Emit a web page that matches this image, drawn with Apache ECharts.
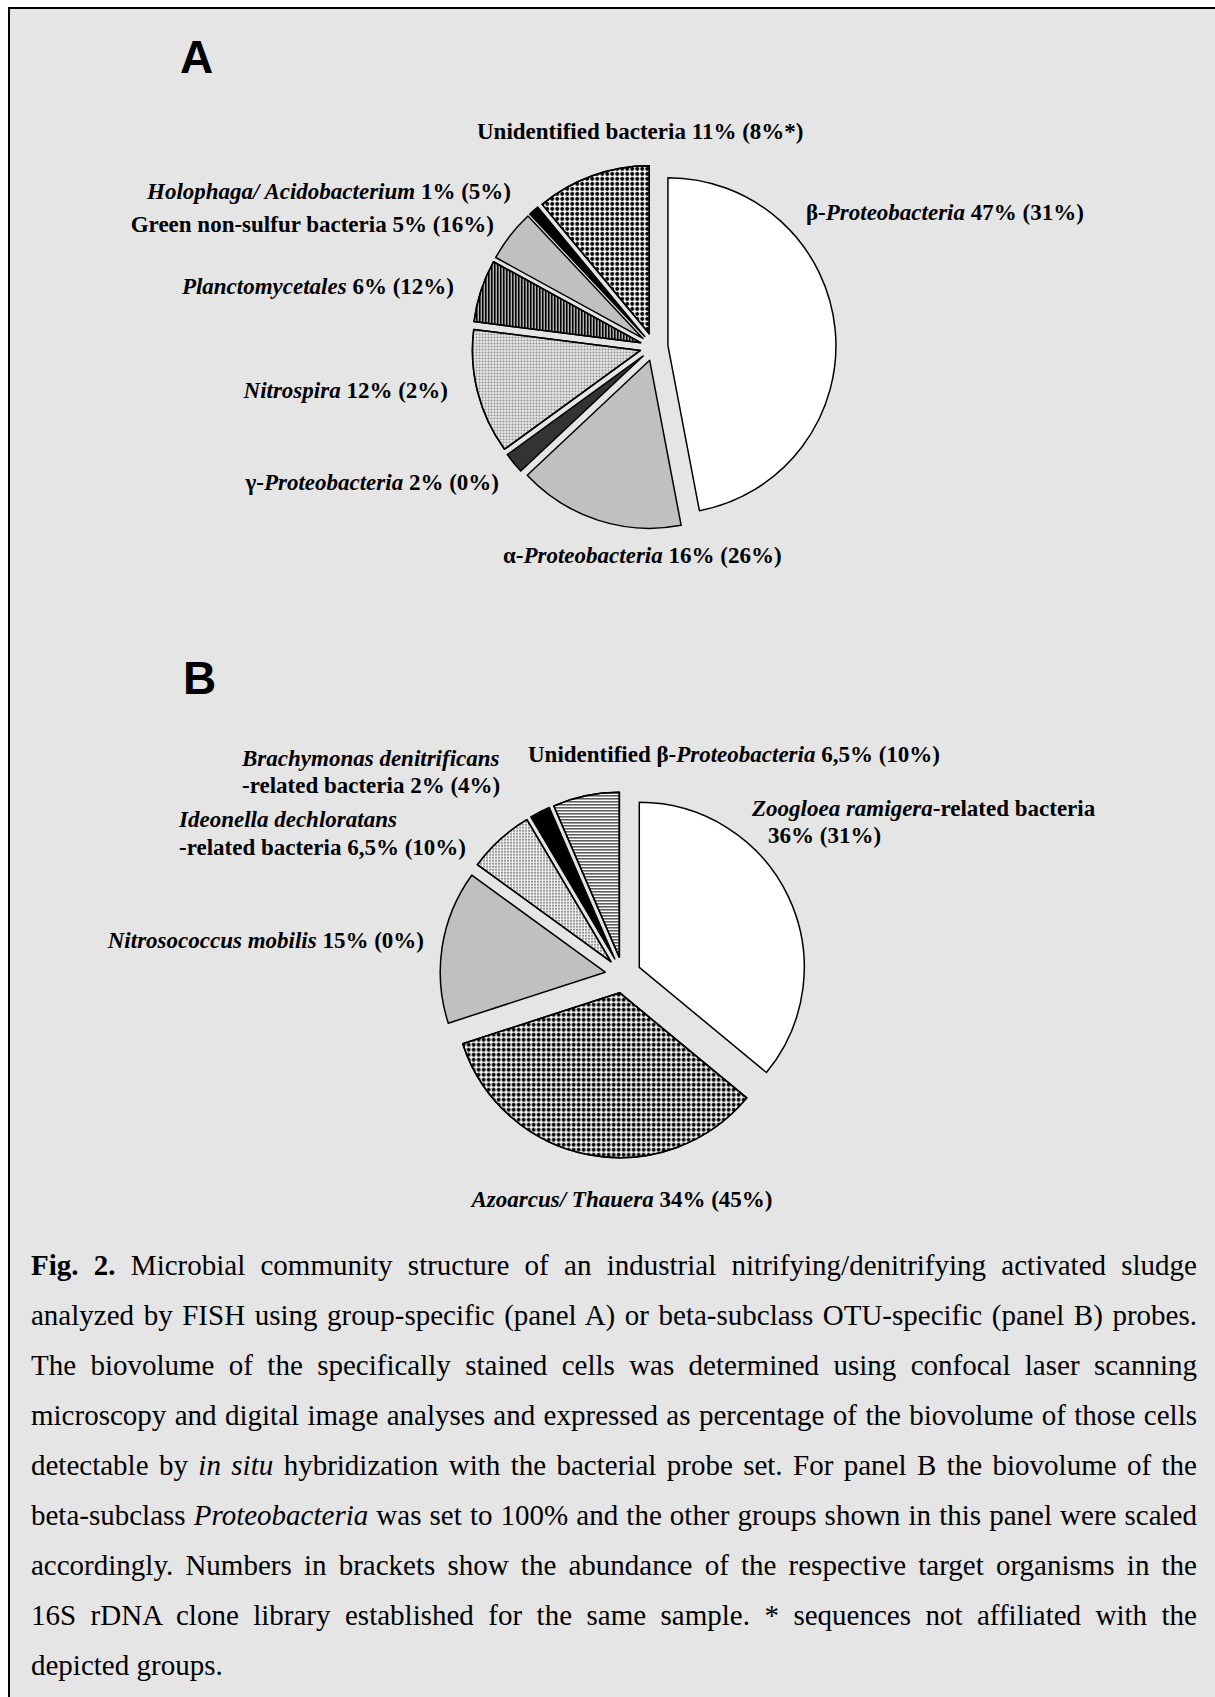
<!DOCTYPE html>
<html>
<head>
<meta charset="utf-8">
<script src="https://cdn.jsdelivr.net/npm/echarts@6/dist/echarts.min.js"></script>
<style>
  html, body { margin: 0; padding: 0; background: #fff; }
  #page { position: relative; width: 1215px; height: 1697px; overflow: hidden; background: #fff; }
  #panel { position: absolute; left: 8px; top: 7px; right: 0; bottom: 0; background: #e5e5e5;
           border-left: 2px solid #000; border-top: 2px solid #000; }
  #chart { position: absolute; left: 0; top: 0; width: 1215px; height: 1697px; }
  #caption { position: absolute; left: 31px; top: 1240px; width: 1166px;
             font-family: 'Liberation Serif', 'Times New Roman', Times, serif;
             font-size: 29px; line-height: 50px; color: #000; }
  #caption div { white-space: nowrap; text-align: justify; text-align-last: justify; }
  #caption div.last { text-align: left; text-align-last: left; }
</style>
</head>
<body>
<div id="page">
  <div id="panel"></div>
  <div id="chart"></div>
  <div id="caption">
    <div><b>Fig. 2.</b> Microbial community structure of an industrial nitrifying/denitrifying activated sludge</div>
    <div>analyzed by FISH using group-specific (panel A) or beta-subclass OTU-specific (panel B) probes.</div>
    <div>The biovolume of the specifically stained cells was determined using confocal laser scanning</div>
    <div>microscopy and digital image analyses and expressed as percentage of the biovolume of those cells</div>
    <div>detectable by <i>in situ</i> hybridization with the bacterial probe set. For panel B the biovolume of the</div>
    <div>beta-subclass <i>Proteobacteria</i> was set to 100% and the other groups shown in this panel were scaled</div>
    <div>accordingly. Numbers in brackets show the abundance of the respective target organisms in the</div>
    <div>16S rDNA clone library established for the same sample. * sequences not affiliated with the</div>
    <div class="last">depicted groups.</div>
  </div>
</div>
<script>
// Panel A: group-specific probes (FISH biovolume %, clone library % in brackets)
const groupsA = ['β-Proteobacteria', 'α-Proteobacteria', 'γ-Proteobacteria', 'Nitrospira',
                 'Planctomycetales', 'Green non-sulfur bacteria', 'Holophaga/ Acidobacterium',
                 'Unidentified bacteria'];
const fishA  = [47, 16, 2, 12, 6, 5, 1, 11];
const cloneA = ['31%', '26%', '0%', '2%', '12%', '16%', '5%', '8%*'];

// Panel B: beta-subclass OTU-specific probes
const groupsB = ['Zoogloea ramigera-related bacteria', 'Azoarcus/ Thauera', 'Nitrosococcus mobilis',
                 'Ideonella dechloratans-related bacteria', 'Brachymonas denitrificans-related bacteria',
                 'Unidentified β-Proteobacteria'];
const fishB  = [36, 34, 15, 6.5, 2, 6.5];
const cloneB = ['31%', '45%', '0%', '10%', '4%', '10%'];

// Label markup ({i|...} = italic taxon names, @v = value text), one entry per line
const labelLinesA = [
  ['β-{i|Proteobacteria} @v'],
  ['α-{i|Proteobacteria} @v'],
  ['γ-{i|Proteobacteria} @v'],
  ['{i|Nitrospira} @v'],
  ['{i|Planctomycetales} @v'],
  ['Green non-sulfur bacteria @v'],
  ['{i|Holophaga/ Acidobacterium} @v'],
  ['Unidentified bacteria @v']
];
const labelLinesB = [
  ['{i|Zoogloea ramigera}-related bacteria', '@v'],
  ['{i|Azoarcus/ Thauera} @v'],
  ['{i|Nitrosococcus mobilis} @v'],
  ['{i|Ideonella dechloratans}', '-related bacteria @v'],
  ['{i|Brachymonas denitrificans}', '-related bacteria @v'],
  ['Unidentified β-{i|Proteobacteria} @v']
];

// Where each label line sits
const labelPosA = [
  [{ x: 806, y: 212, align: 'left' }],
  [{ x: 503, y: 555, align: 'left' }],
  [{ x: 499, y: 482, align: 'right' }],
  [{ x: 448, y: 390, align: 'right' }],
  [{ x: 454, y: 286, align: 'right' }],
  [{ x: 494, y: 224, align: 'right' }],
  [{ x: 511, y: 191, align: 'right' }],
  [{ x: 477, y: 131, align: 'left' }]
];
const labelPosB = [
  [{ x: 752, y: 808, align: 'left' }, { x: 768, y: 835, align: 'left' }],
  [{ x: 622, y: 1199, align: 'center' }],
  [{ x: 424, y: 940, align: 'right' }],
  [{ x: 179, y: 819, align: 'left' }, { x: 179, y: 847, align: 'left' }],
  [{ x: 242, y: 758, align: 'left' }, { x: 242, y: 785, align: 'left' }],
  [{ x: 528, y: 754, align: 'left' }]
];

// Slice fills: flat greys, black, and halftone-like decals
const WHITE = { color: '#ffffff' };
const GREY  = { color: '#c0c0c0' };
const DARK  = { color: '#333333' };
const BLACK = { color: '#000000' };
const DOTS  = { color: '#ffffff', decal: { symbol: 'circle', symbolSize: 1, color: '#000000',
                dashArrayX: [4, 1], dashArrayY: [4, 1] } };
const MESH  = { color: '#ffffff', decal: { symbol: 'circle', symbolSize: 1, color: '#7a7a7a',
                dashArrayX: [2, 1], dashArrayY: [2, 1] } };
const VSTRIPES = { color: '#ffffff', decal: { symbol: 'rect', symbolSize: 1, color: '#000000',
                symbolKeepAspect: false, dashArrayX: [2, 1], dashArrayY: [6, 0] } };
const HSTRIPES = { color: '#ffffff', decal: { symbol: 'rect', symbolSize: 1, color: '#000000',
                symbolKeepAspect: false, dashArrayX: [6, 0], dashArrayY: [1, 2] } };

const stylesA = [WHITE, GREY, DARK, MESH, VSTRIPES, GREY, BLACK, DOTS];
const stylesB = [WHITE, DOTS, GREY, MESH, BLACK, HSTRIPES];

const SERIF = "'Liberation Serif', 'Times New Roman', Times, serif";
const SANS = "'Liberation Sans', Arial, Helvetica, sans-serif";

function valueText(v, clone) {
  return String(v).replace('.', ',') + '% (' + clone + ')';
}

function pieSeries(names, values, styles, center, radius, offset) {
  return {
    type: 'pie',
    center: center,
    radius: [0, radius],
    startAngle: 90,
    clockwise: true,
    selectedMode: 'multiple',
    selectedOffset: offset,
    avoidLabelOverlap: false,
    animation: false,
    label: { show: false },
    labelLine: { show: false },
    emphasis: { disabled: true },
    itemStyle: { borderColor: '#000', borderWidth: 1.5 },
    select: { itemStyle: { borderColor: '#000', borderWidth: 1.5 } },
    data: names.map((n, i) => ({
      name: n, value: values[i], selected: true,
      itemStyle: Object.assign({}, styles[i])
    }))
  };
}

function labelTexts(lines, positions, values, clones) {
  const out = [];
  lines.forEach((ls, i) => {
    ls.forEach((t, j) => {
      const p = positions[i][j];
      out.push({
        type: 'text',
        silent: true,
        style: {
          text: t.replace('@v', valueText(values[i], clones[i])),
          x: p.x, y: p.y,
          fill: '#000',
          fontFamily: SERIF, fontSize: 23, fontWeight: 'bold',
          align: p.align, textAlign: p.align,
          verticalAlign: 'middle', textVerticalAlign: 'middle',
          rich: { i: { fill: '#000', fontFamily: SERIF, fontSize: 23, fontWeight: 'bold', fontStyle: 'italic' } }
        }
      });
    });
  });
  return out;
}

function panelLetter(letter, x, y) {
  return {
    type: 'text', silent: true,
    style: { text: letter, x: x, y: y, fill: '#000', fontFamily: SANS, fontSize: 46, fontWeight: 'bold',
             align: 'left', textAlign: 'left', verticalAlign: 'middle', textVerticalAlign: 'middle' }
  };
}

const chart = echarts.init(document.getElementById('chart'), null, { renderer: 'svg', width: 1215, height: 1697 });
chart.setOption({
  animation: false,
  backgroundColor: 'transparent',
  series: [
    pieSeries(groupsA, fishA, stylesA, [654, 347], 168, 14),
    pieSeries(groupsB, fishB, stylesB, [623, 975], 165, 18)
  ],
  graphic: [
    panelLetter('A', 180, 57),
    panelLetter('B', 183, 678)
  ].concat(labelTexts(labelLinesA, labelPosA, fishA, cloneA))
   .concat(labelTexts(labelLinesB, labelPosB, fishB, cloneB))
});
</script>
</body>
</html>
